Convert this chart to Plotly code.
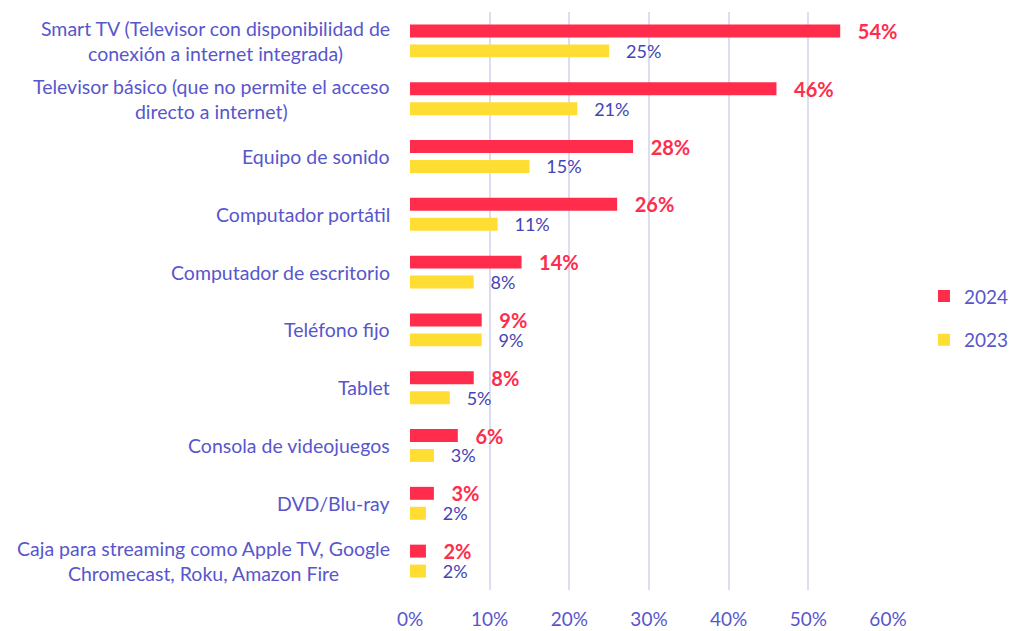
import plotly.graph_objects as go

categories = [
    "Smart TV (Televisor con disponibilidad de<br>conexión a internet integrada)",
    "Televisor básico (que no permite el acceso<br>directo a internet)",
    "Equipo de sonido",
    "Computador portátil",
    "Computador de escritorio",
    "Teléfono fijo",
    "Tablet",
    "Consola de videojuegos",
    "DVD/Blu-ray",
    "Caja para streaming como Apple TV, Google<br>Chromecast, Roku, Amazon Fire",
]
values_2024 = [54, 46, 28, 26, 14, 9, 8, 6, 3, 2]
values_2023 = [25, 21, 15, 11, 8, 9, 5, 3, 2, 2]
series_names = ["2024", "2023"]
tick_vals = [0, 10, 20, 30, 40, 50, 60]
tick_text = ["0%", "10%", "20%", "30%", "40%", "50%", "60%"]

RED = "#FF2D4B"
YELLOW = "#FFDD33"
TXT = "#5856CC"
VAL = "#4444B4"
PAD = "\u00a0\u00a0\u00a0"
FONT = "Lato"

fig = go.Figure()
fig.add_trace(go.Bar(
    name=series_names[0], y=categories, x=values_2024, orientation="h",
    marker=dict(color=RED, line=dict(width=0)), legendgroup="a",
    text=[f"{PAD}{v}%" for v in values_2024], textposition="outside",
    constraintext="none",
    outsidetextfont=dict(family=FONT, size=20, color=RED, weight="bold"),
    cliponaxis=False, hoverinfo="x+y",
))
fig.add_trace(go.Bar(
    name=series_names[1], y=categories, x=values_2023, orientation="h",
    marker=dict(color=YELLOW, line=dict(width=0)), legendgroup="b",
    text=[f"{PAD}{v}%" for v in values_2023], textposition="outside",
    constraintext="none",
    outsidetextfont=dict(family=FONT, size=18, color=VAL),
    cliponaxis=False, hoverinfo="x+y",
))

for c in categories:
    fig.add_annotation(
        x=0, xref="paper", y=c, yref="y", text=c, showarrow=False,
        xanchor="right", yanchor="middle", align="center", xshift=-18,
        font=dict(family=FONT, size=19.5, color=TXT),
    )

fig.update_layout(
    width=1011, height=623,
    margin=dict(l=402, r=131, t=4, b=41, autoexpand=False),
    paper_bgcolor="white", plot_bgcolor="white",
    barmode="group", bargap=0.31, bargroupgap=0.35,
    font=dict(family=FONT, color=TXT),
    showlegend=True,
    legend=dict(
        xref="container", x=0.906, xanchor="left",
        yref="container", y=0.502, yanchor="middle",
        font=dict(family=FONT, size=19, color=TXT),
        traceorder="grouped", tracegroupgap=16, itemwidth=30,
    ),
    xaxis=dict(
        range=[0, 60], tickvals=tick_vals, ticktext=tick_text,
        showgrid=True, gridcolor="#DCDCF2", gridwidth=2,
        zeroline=False, showline=False, ticks="",
        tickfont=dict(family=FONT, size=19, color=TXT),
        ticklabelstandoff=16, fixedrange=True,
    ),
    yaxis=dict(
        autorange="reversed", showticklabels=False, showgrid=False,
        zeroline=False, showline=False, ticks="", fixedrange=True,
    ),
)
fig.write_html("out.html")
